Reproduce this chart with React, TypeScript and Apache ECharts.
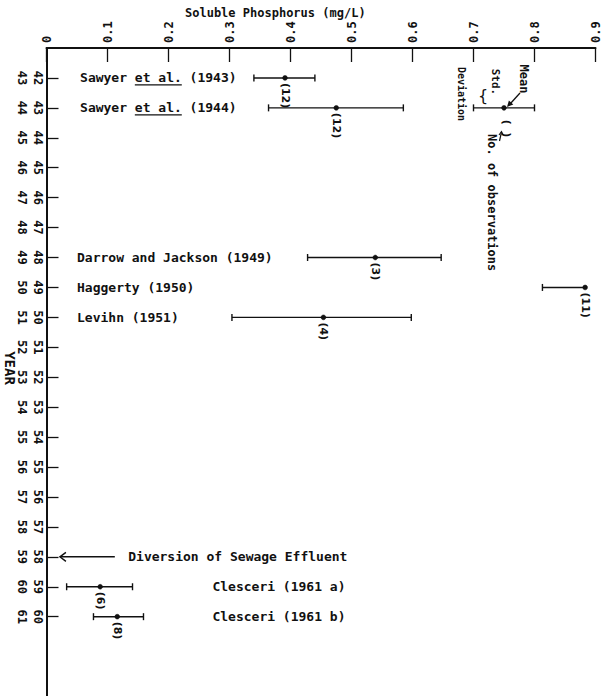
import { useEffect, useRef } from "react";
import * as echarts from "echarts";

// ---------- data ----------
const axisTitle = "Soluble Phosphorus (mg/L)";
const yearTicks = [42, 43, 44, 45, 46, 47, 48, 49, 50, 51, 52, 53, 54, 55, 56, 57, 58, 59, 60];
const studyNames = [
  "Sawyer _et al._ (1943)",
  "Sawyer _et al._ (1944)",
  "Darrow and Jackson (1949)",
  "Haggerty (1950)",
  "Levihn (1951)",
  "Clesceri (1961 a)",
  "Clesceri (1961 b)",
];
const studyYears = [42, 43, 48, 49, 50, 59, 60];
const meanP = [0.391, 0.475, 0.539, 0.883, 0.454, 0.088, 0.116];
const lowP = [0.34, 0.364, 0.428, 0.813, 0.304, 0.033, 0.077];
const highP: (number | null)[] = [0.44, 0.585, 0.647, null, 0.598, 0.141, 0.159];
const counts = [12, 12, 3, 11, 4, 6, 8];

// legend sample bar (mean / std. deviation key)
const sampleLow = [0.7];
const sampleHigh = [0.8];
const sampleMean = [0.75];
const sampleYear = [43];

// event annotation
const diversionYear = 58;
const diversionText = "Diversion of Sewage Effluent";

// ---------- layout (positions of annotation texts, in axis units) ----------
const nameX = [0.055, 0.055, 0.05, 0.05, 0.05, 0.272, 0.272];
const diversionArrowFrom = 0.112;
const diversionArrowTo = 0.022;
const diversionTextX = 0.134;

const INK = "#111";
const MONO = '"DejaVu Sans Mono", monospace';
const SANS = '"DejaVu Sans", sans-serif';

export default function App() {
  const ref = useRef<HTMLDivElement | null>(null);

  useEffect(() => {
    const el = ref.current!;
    const chart = echarts.init(el, null, { renderer: "svg" });
    const canvas = document.createElement("canvas");
    const ctx = canvas.getContext("2d")!;
    const measure = (t: string, font: string) => {
      ctx.font = font;
      return ctx.measureText(t).width;
    };
    const nameFont = `bold 13px ${MONO}`;
    const countFont = `bold 11px ${SANS}`;

    const txt = (text: string, x: number, y: number, font: string, align: string, rot = 0) => ({
      type: "text",
      x,
      y,
      rotation: rot,
      silent: true,
      style: {
        text,
        font,
        fill: INK,
        align,
        verticalAlign: "middle",
        textAlign: align,
        textVerticalAlign: "middle",
      },
    });
    const ln = (x1: number, y1: number, x2: number, y2: number, w = 1.4) => ({
      type: "line",
      silent: true,
      shape: { x1, y1, x2, y2 },
      style: { stroke: INK, lineWidth: w },
    });

    const drawBar = (lo: number[], hi: number[] | null, m: number[], cap2: boolean, label: string | null) => {
      const children: any[] = [];
      const right = hi ?? m;
      children.push(ln(lo[0], lo[1], right[0], right[1], 1.4));
      children.push(ln(lo[0], lo[1] - 3.5, lo[0], lo[1] + 3.5, 1.4));
      if (cap2 && hi) children.push(ln(hi[0], hi[1] - 3.5, hi[0], hi[1] + 3.5, 1.4));
      children.push({
        type: "circle",
        silent: true,
        shape: { cx: m[0], cy: m[1], r: 2.4 },
        style: { fill: INK, stroke: INK, lineWidth: 0.5 },
      });
      if (label) children.push(txt(label, m[0], m[1] + 5, countFont, "left", -Math.PI / 2));
      return { type: "group", children };
    };

    const errorBarSeries = {
      type: "custom",
      silent: true,
      clip: false,
      data: studyYears.map((y, i) => [y, lowP[i], highP[i] ?? meanP[i], meanP[i], counts[i]]),
      renderItem: (params: any, api: any) => {
        const i = params.dataIndex;
        const yr = api.value(0);
        const lo = api.coord([api.value(1), yr]);
        const hi = api.coord([api.value(2), yr]);
        const m = api.coord([api.value(3), yr]);
        return drawBar(lo, hi, m, highP[i] != null, `(${api.value(4)})`);
      },
    };

    const sampleSeries = {
      type: "custom",
      silent: true,
      clip: false,
      data: sampleYear.map((y, i) => [y, sampleLow[i], sampleHigh[i], sampleMean[i]]),
      renderItem: (_params: any, api: any) => {
        const yr = api.value(0);
        const lo = api.coord([api.value(1), yr]);
        const hi = api.coord([api.value(2), yr]);
        const m = api.coord([api.value(3), yr]);
        return drawBar(lo, hi, m, true, null);
      },
    };

    const nameSeries = {
      type: "custom",
      silent: true,
      clip: false,
      data: studyYears.map((y, i) => [y, nameX[i]]),
      renderItem: (params: any, api: any) => {
        const i = params.dataIndex;
        const p = api.coord([api.value(1), api.value(0)]);
        const parts = studyNames[i].split("_");
        const children: any[] = [];
        let x = p[0];
        parts.forEach((part, k) => {
          if (!part) return;
          const w = measure(part, nameFont);
          children.push(txt(part, x, p[1], nameFont, "left"));
          if (k % 2 === 1) children.push(ln(x, p[1] + 7, x + w, p[1] + 7, 1.3));
          x += w;
        });
        return { type: "group", children };
      },
    };

    const diversionSeries = {
      type: "custom",
      silent: true,
      clip: false,
      data: [[diversionYear, diversionArrowFrom, diversionArrowTo, diversionTextX]],
      renderItem: (_params: any, api: any) => {
        const yr = api.value(0);
        const a = api.coord([api.value(1), yr]);
        const b = api.coord([api.value(2), yr]);
        const t = api.coord([api.value(3), yr]);
        return {
          type: "group",
          children: [
            ln(a[0], a[1], b[0], b[1], 1.4),
            {
              type: "polyline",
              silent: true,
              shape: { points: [[b[0] + 6, b[1] - 4.5], [b[0], b[1]], [b[0] + 6, b[1] + 4.5]] },
              style: { stroke: INK, lineWidth: 1.4, fill: "none" },
            },
            txt(diversionText, t[0], t[1], nameFont, "left"),
          ],
        };
      },
    };

    const yAxisBase = {
      type: "value",
      inverse: true,
      min: 41,
      max: 62.65,
      position: "left",
      splitLine: { show: false },
    };

    const option: any = {
      animation: false,
      backgroundColor: "#fff",
      title: {
        text: axisTitle,
        left: 180,
        top: 2,
        textStyle: { fontFamily: MONO, fontWeight: "bold", fontSize: 12, color: INK },
      },
      grid: { left: 46.5, right: 7.5, top: 48, bottom: 0, containLabel: false },
      xAxis: {
        type: "value",
        position: "top",
        min: 0,
        max: 0.9,
        interval: 0.1,
        axisLine: { show: true, onZero: false, lineStyle: { color: INK, width: 2 } },
        axisTick: { show: true, inside: true, length: 14, lineStyle: { color: INK, width: 1.3 } },
        axisLabel: {
          rotate: -90,
          margin: 5,
          color: INK,
          fontFamily: MONO,
          fontWeight: "bold",
          fontSize: 12,
          formatter: (v: number) => (v === 0 ? "0" : v.toFixed(1)),
        },
        splitLine: { show: false },
      },
      yAxis: [
        {
          ...yAxisBase,
          axisLine: { show: true, onZero: false, lineStyle: { color: INK, width: 2 } },
          axisTick: {
            show: true,
            inside: true,
            length: 12,
            customValues: yearTicks,
            lineStyle: { color: INK, width: 1.3 },
          },
          axisLabel: {
            customValues: yearTicks,
            rotate: -90,
            margin: 3,
            color: INK,
            fontFamily: MONO,
            fontWeight: "bold",
            fontSize: 12,
            formatter: (v: number) => String(Math.round(v)),
          },
        },
        {
          ...yAxisBase,
          offset: 16,
          axisLine: { show: false, onZero: false },
          axisTick: { show: false },
          axisLabel: {
            customValues: yearTicks,
            rotate: -90,
            margin: 3,
            color: INK,
            fontFamily: MONO,
            fontWeight: "bold",
            fontSize: 12,
            formatter: (v: number) => String(Math.round(v) + 1),
          },
        },
      ],
      series: [errorBarSeries, sampleSeries, nameSeries, diversionSeries],
      graphic: [
        txt("YEAR", 10, 368, `bold 14px ${MONO}`, "center", -Math.PI / 2),
        txt("Mean", 524, 79, `bold 12px ${MONO}`, "center", -Math.PI / 2),
        txt("Std.", 495.5, 82, `bold 11px ${MONO}`, "center", -Math.PI / 2),
        txt("{", 483, 95, `16px ${SANS}`, "center"),
        txt("Deviation", 461, 94, `bold 10px ${MONO}`, "center", -Math.PI / 2),
        txt("(  )", 506, 128.5, `bold 11px ${SANS}`, "center", -Math.PI / 2),
        txt("No. of observations", 492, 134, `bold 12px ${MONO}`, "left", -Math.PI / 2),
        ln(520, 93, 510, 104, 1.3),
        {
          type: "polygon",
          silent: true,
          shape: { points: [[507, 107], [513.3, 104.6], [508.9, 100.6]] },
          style: { fill: INK },
        },
        ln(499.5, 141, 501.5, 132, 1.2),
        {
          type: "polyline",
          silent: true,
          shape: { points: [[499, 135], [501.5, 131.5], [503.5, 135.5]] },
          style: { stroke: INK, lineWidth: 1.1, fill: "none" },
        },
      ],
    };

    chart.setOption(option);
    return () => chart.dispose();
  }, []);

  return (
    <div
      ref={ref}
      style={{ position: "fixed", left: 0, top: 0, width: 603, height: 696, background: "#fff" }}
    />
  );
}
